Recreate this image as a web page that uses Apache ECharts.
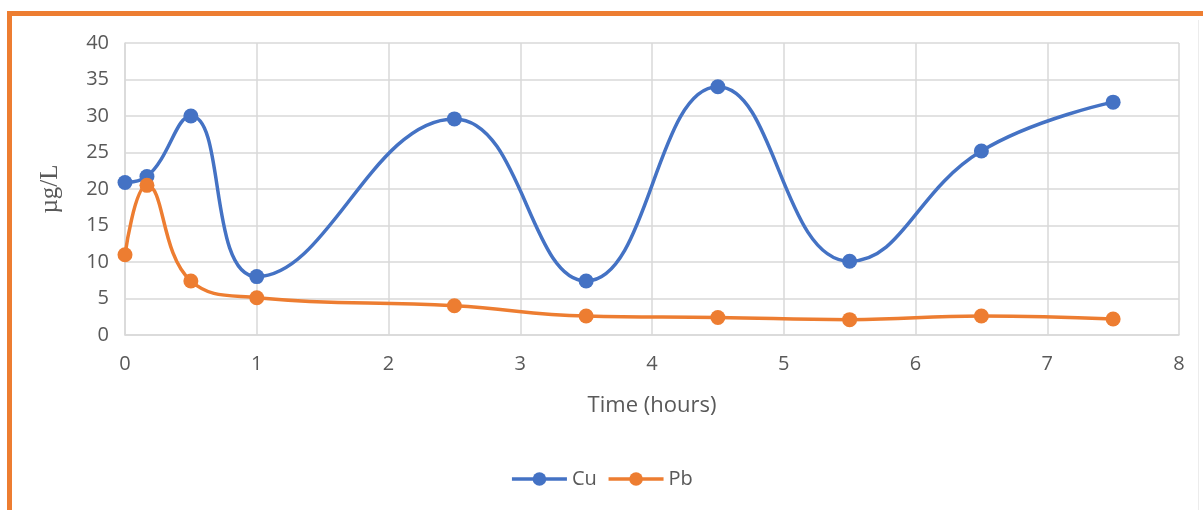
<!DOCTYPE html>
<html>
<head>
<meta charset="utf-8">
<style>
  html, body { margin: 0; padding: 0; background: #fff; }
  #chart { width: 1203px; height: 510px; }
</style>
<script src="https://cdn.jsdelivr.net/npm/echarts@6/dist/echarts.min.js"></script>
</head>
<body>
<div id="chart"></div>
<script>
// Sampling times (hours)
const hours = [0, 1 / 6, 0.5, 1, 2.5, 3.5, 4.5, 5.5, 6.5, 7.5];
// Dissolved metal concentrations (µg/L)
const cuValues = [20.9, 21.7, 30.0, 8.0, 29.6, 7.4, 34.0, 10.1, 25.2, 31.9];
const pbValues = [11.0, 20.5, 7.4, 5.1, 4.0, 2.6, 2.4, 2.1, 2.6, 2.2];
const xTicks = [0, 1, 2, 3, 4, 5, 6, 7, 8];
const yTicks = [0, 5, 10, 15, 20, 25, 30, 35, 40];

const textColor = '#595959';
const gridColor = '#d9d9d9';
const font = '"Open Sans", "Liberation Sans", sans-serif';

const pairs = (xs, ys) => xs.map((x, i) => [x, ys[i]]);

const chart = echarts.init(document.getElementById('chart'), null, { renderer: 'canvas' });

chart.setOption({
  backgroundColor: '#ffffff',
  animation: false,
  graphic: [
    {
      type: 'rect',
      shape: { x: 9.5, y: 13.5, width: 1400, height: 700 },
      style: { fill: 'none', stroke: '#ED7D31', lineWidth: 5 },
      z: 10
    },
    {
      type: 'line',
      shape: { x1: 1198.5, y1: 20, x2: 1198.5, y2: 510 },
      style: { stroke: '#ececec', lineWidth: 1 },
      z: 1
    }
  ],
  grid: { left: 125, right: 24, top: 43, bottom: 175, containLabel: false },
  xAxis: {
    type: 'value',
    min: xTicks[0],
    max: xTicks[xTicks.length - 1],
    interval: 1,
    name: 'Time (hours)',
    nameLocation: 'middle',
    nameGap: 60,
    nameTextStyle: { color: textColor, fontSize: 22, fontFamily: font },
    axisLine: { show: true, lineStyle: { color: gridColor, width: 1.5 } },
    axisTick: { show: false },
    axisLabel: { color: textColor, fontSize: 20, fontFamily: font, margin: 19 },
    splitLine: { show: true, lineStyle: { color: gridColor, width: 1.5 } }
  },
  yAxis: {
    type: 'value',
    min: yTicks[0],
    max: yTicks[yTicks.length - 1],
    interval: 5,
    name: 'µg/L',
    nameLocation: 'middle',
    nameGap: 62,
    nameTextStyle: { color: textColor, fontSize: 25, fontFamily: '"Liberation Serif", "DejaVu Serif", serif' },
    axisLine: { show: true, lineStyle: { color: gridColor, width: 1.5 } },
    axisTick: { show: false },
    axisLabel: { color: textColor, fontSize: 20, fontFamily: font, margin: 16 },
    splitLine: { show: true, lineStyle: { color: gridColor, width: 1.5 } }
  },
  legend: {
    bottom: 16,
    left: 'center',
    itemWidth: 55,
    itemHeight: 17,
    itemGap: 10,
    textStyle: { color: textColor, fontSize: 20, fontFamily: font },
    lineStyle: { width: 3.5 },
    data: ['Cu', 'Pb']
  },
  series: [
    {
      name: 'Cu',
      type: 'line',
      data: pairs(hours, cuValues),
      smooth: 0.45,
      symbol: 'circle',
      symbolSize: 15,
      lineStyle: { color: '#4472C4', width: 3.5 },
      itemStyle: { color: '#4472C4' }
    },
    {
      name: 'Pb',
      type: 'line',
      data: pairs(hours, pbValues),
      smooth: 0.45,
      symbol: 'circle',
      symbolSize: 15,
      lineStyle: { color: '#ED7D31', width: 3.5 },
      itemStyle: { color: '#ED7D31' }
    }
  ]
});
</script>
</body>
</html>
